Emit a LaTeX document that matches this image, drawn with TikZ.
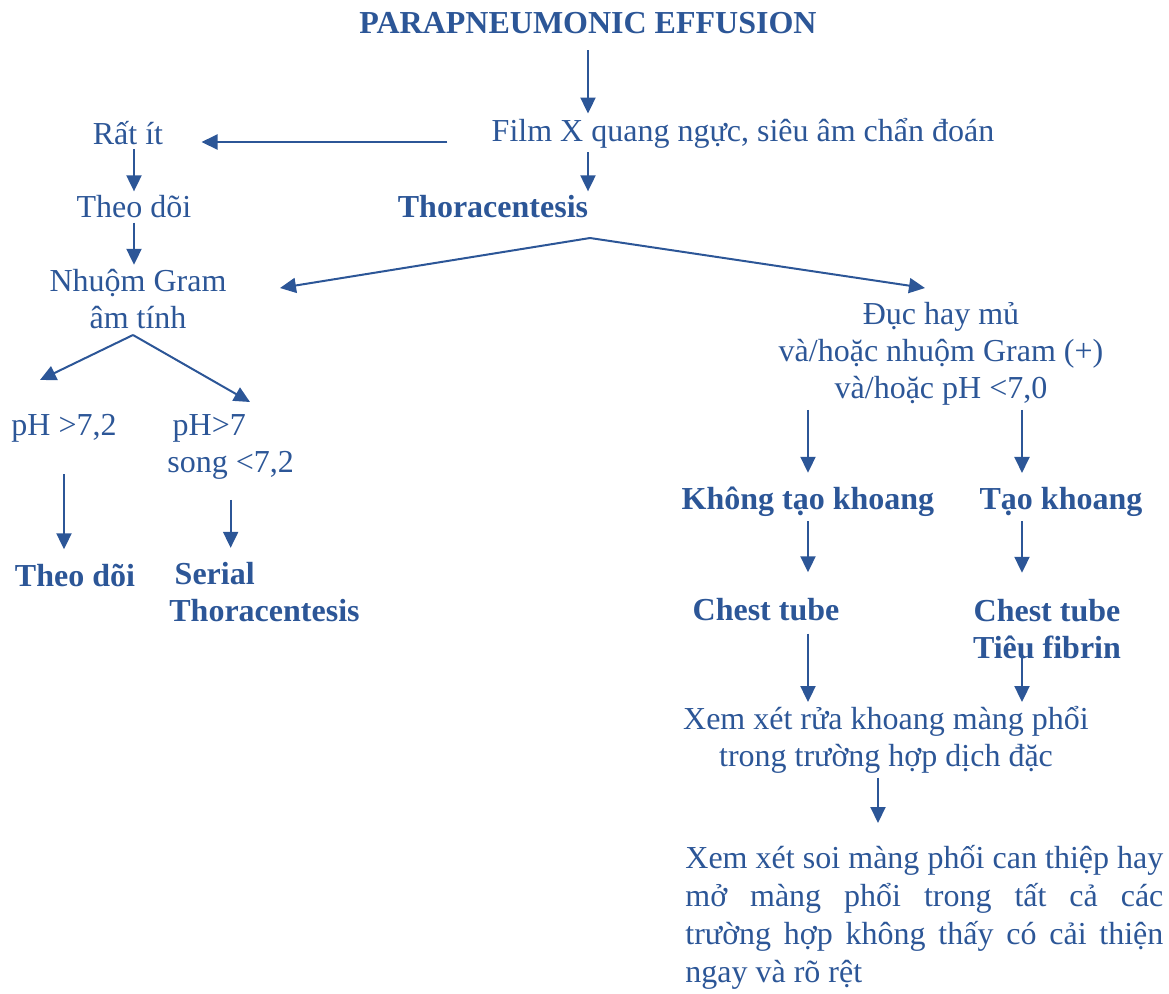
\documentclass[tikz,border=0pt]{standalone}
\usepackage{fontspec}
\setmainfont{Liberation Serif}
\usetikzlibrary{arrows.meta}
\definecolor{chartblue}{RGB}{44,86,151}

\begin{document}
\begin{tikzpicture}[
  x=0.5pt, y=-0.5pt,
  font=\fontsize{16}{18.5}\selectfont,
  every node/.style={text=chartblue, inner sep=2pt},
  txt/.style={align=center},
  hd/.style={align=center, font=\fontsize{16}{18.5}\selectfont\bfseries},
  flow/.style={draw=chartblue, line width=1pt, -{Triangle[length=8pt, width=7.5pt]}}
]
\useasboundingbox (0,0) rectangle (1169,993);

% top of the chart
\node[hd] (title) at (588,23) {PARAPNEUMONIC EFFUSION};
\node[txt] (film) at (743,133) {Film X quang ngực, siêu âm chẩn đoán};
\node[hd] (thor) at (493,207) {Thoracentesis};

% left branch
\node[txt] (few) at (128,133) {Rất ít};
\node[txt] (watch) at (134,207) {Theo dõi};
\node[txt] (gram) at (138,299) {Nhuộm Gram\\âm tính};
\node[txt] (ph1) at (64,428) {pH >7,2};
\node[align=left, anchor=west] (ph2) at (163,447) {\,pH>7\\song <7,2};
\node[hd] (watch2) at (75,575) {Theo dõi};
\node[hd, align=left, anchor=west] (serial) at (165,592) {\,Serial\\Thoracentesis};

% right branch
\node[txt] (pus) at (941,354) {Đục hay mủ\\và/hoặc nhuộm Gram (+)\\và/hoặc pH <7,0};
\node[hd] (noloc) at (808,502) {Không tạo khoang};
\node[hd] (loc) at (1061,502) {Tạo khoang};
\node[hd] (tube1) at (766,610) {Chest tube};
\node[hd] (tube2) at (1047,629) {Chest tube\\Tiêu fibrin};
\node[txt] (wash) at (886,740) {Xem xét rửa khoang màng phổi\\trong trường hợp dịch đặc};
\node[text width=239pt, align=justify, anchor=north west, inner sep=0pt,
      font=\fontsize{16}{19}\selectfont] (vats) at (685,845)
  {Xem xét soi màng phối can thiệp hay\linebreak mở màng phổi trong tất cả các\linebreak
   trường hợp không thấy có cải thiện\linebreak ngay và rõ rệt};

\coordinate (thorfork) at (590,238);
\coordinate (gramtip) at (280,288);
\coordinate (pustip) at (925,288);
\coordinate (gramfork) at (133,335);
\coordinate (ph1tip) at (40,380);
\coordinate (ph2tip) at (250,402);
\coordinate (rightcol) at (1022,0);

\draw[flow, shorten <=6pt] (title.south) -- (title.south |- film.north);
\draw[flow] (film.south -| title.south) -- (thor.north -| title.south);
\draw[flow, shorten <=20pt, shorten >=17pt] ([yshift=-4.5pt]film.west) -- ([yshift=-4.5pt]few.east);
\draw[flow] (few.south -| watch.north) -- (watch.north);
\draw[flow] (watch.south) -- (gram.north -| watch.south);
\draw[flow] (thorfork) -- (gramtip);
\draw[flow] (thorfork) -- (pustip);
\draw[flow] (gramfork) -- (ph1tip);
\draw[flow] (gramfork) -- (ph2tip);
\draw[flow, shorten <=14pt, shorten >=5pt] (ph1.south) -- (ph1.south |- watch2.north);
\draw[flow, shorten <=8pt, shorten >=5pt] (ph2.south) -- (ph2.south |- serial.north);
\draw[flow, shorten >=5pt] (pus.south -| noloc.north) -- (noloc.north);
\draw[flow, shorten >=5pt] (pus.south -| rightcol) -- (loc.north -| rightcol);
\draw[flow, shorten >=11pt] (noloc.south) -- (noloc.south |- tube1.north);
\draw[flow, shorten >=11pt] (loc.south -| rightcol) -- (tube2.north -| rightcol);
\draw[flow, shorten <=4pt] (tube1.south -| noloc.south) -- (wash.north -| noloc.south);
\draw[flow, shorten <=-5pt] (tube2.south -| rightcol) -- (wash.north -| rightcol);
\draw[flow, shorten >=11pt] ([xshift=-4pt]wash.south) -- ([xshift=-4pt]wash.south |- vats.north);
\end{tikzpicture}
\end{document}
